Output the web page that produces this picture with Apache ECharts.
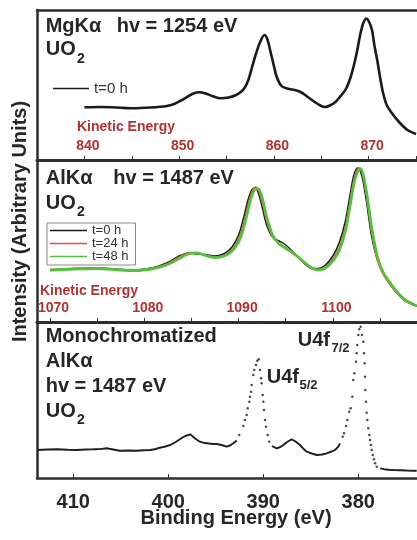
<!DOCTYPE html>
<html><head><meta charset="utf-8">
<script src="https://cdn.jsdelivr.net/npm/echarts@6/dist/echarts.min.js"></script>
<style>html,body{margin:0;padding:0;background:#fff}#c{width:417px;height:540px}</style>
</head><body><div id="c"></div>
<script>
// ---- Panel 1: MgKa, kinetic energy (eV) vs intensity (arb.)
const mgKE = [840.0,841.7,843.5,845.1,847.0,848.7,849.4,850.2,850.9,851.5,852.1,852.8,853.5,854.4,855.2,855.9,856.5,856.9,857.3,857.7,858.1,858.55,859.0,859.3,859.6,859.95,860.3,860.8,861.4,862.4,863.0,863.5,864.3,865.0,865.4,865.9,866.5,867.0,867.6,868.1,868.5,868.8,869.1,869.4,869.75,870.05,870.35,870.6,870.9,871.2,871.5,871.9,872.6,873.3,874.1,875.0];
const mgI  = [52.7,53,52.5,51.7,52.5,54,55.7,59.5,63.3,66.5,67.7,66.5,64,61.7,62.5,64.5,68,72,80,93,106,118,125,121,110,96,83,74,71.5,69.5,67,63.5,58,54,53,54.5,58,63.5,71,83,97,110,125,136,141.5,138,130,115,100,83,68,55,45,37,30,26];

// ---- Panel 2: AlKa, kinetic energy (eV), three times
const alKE = [1070,1072.5,1075,1077.5,1079,1081,1082.5,1083.7,1084.8,1085.6,1086.5,1087.5,1088.5,1089.3,1090,1090.5,1091,1091.4,1091.8,1092.1,1092.5,1093,1093.6,1094.3,1095,1095.8,1096.7,1097.6,1098.4,1099.2,1100,1100.7,1101.3,1101.8,1102.2,1102.6,1102.9,1103.2,1103.6,1104.1,1104.7,1105.3,1106,1106.8,1107.7,1108.9];
const al0h  = [52,53.5,54,52.5,52,54.5,59.5,66,69,68,67.5,66,68.5,75,87,103,122,132,134,129,115,96,85,81,77,70,61,54,53.5,57,66,80,100,126,146,154,151,141,118,86,63,51,39,29,21,16];
const al24h = [52.5,53,54,52,51.5,54,58.5,65,69.5,69,66.5,65,67,72.5,83,97,117,130,135,132,120,100,85,78,73,68,61,54,52.5,55,63,75,94,120,141,153,154,146,124,90,62,48,38,29,21,16];
const al48h = [52,53,53.5,52,51.5,53.5,57.5,63.5,68.5,69,66.5,64.5,66,71,80,93,112,126,133,133,124,104,87,78,74,69,62,55,52,54,61,72,90,115,137,150,153,148,128,95,66,50,40,30,22,16];

// ---- Panel 3: monochromatized AlKa, binding energy (eV)
const monoBE = [413.8,412.7,411.7,410.6,409.6,408.7,407.9,407.2,406.5,405.8,405.1,404.2,403.3,402.6,401.9,401.3,400.9,400.3,399.8,399.3,398.9,398.5,398.2,397.7,397.2,396.7,396.3,395.7,395.3,394.9,394.4,393.85,393.5,393.16,392.8,
  392.53,392.1,391.93,391.75,391.64,391.47,391.4,391.29,391.22,391.05,390.95,390.77,390.63,390.48,390.35,390.24,390.17,390.06,390.0,389.93,389.82,389.72,389.54,389.37,
  389.1,388.59,388.2,387.89,387.5,387.01,386.6,386.14,385.8,385.43,384.9,384.38,383.8,383.33,382.8,382.45,382.1,381.93,
  381.64,381.5,381.29,381.16,380.95,380.8,380.63,380.53,380.42,380.24,380.17,380.11,380.0,379.89,379.75,379.61,379.47,379.4,379.33,379.3,379.26,379.19,379.12,379.05,378.95,378.84,378.77,378.66,378.59,378.48,378.35,378.24,378.06,
  377.7,377.3,376.8,376.3,375.6,374.9,374.2,373.85];
const monoI = [28,28.5,28.7,28.2,28,28.5,28.7,28.9,29.7,28.5,27.3,27.5,27.3,27.8,28,29,30.3,31.5,33,35.5,38,40.5,42,43.7,39.7,36.3,35.3,34.5,34,34,33,31.3,32.5,34.7,37.5,
  43,52,58,63,69.7,76.3,81.3,86.3,93,103,108,113,117.3,118.7,108,99.7,94.7,83,76.3,68,58,51.3,43,36.3,
  32,29.7,31,33,36,38.7,36.5,33,29.5,26.3,24.5,23,23.5,24.7,26.5,28,31.3,34.7,
  41.3,44.7,52,58,66.3,69.7,81.3,98,104.7,116.3,124.7,133,143,148.7,151.3,143,136.3,124.7,114.7,101.3,88,76.3,65.3,58,49.7,43,38,33,28,23,18.7,14.7,11.3,
  9.7,8.8,8.3,8,7.8,7.5,7.3,7.2];
const monoDotWindows = [[389.3, 392.6], [378.0, 381.7]];

// ---- Tick values
const mgTicks = [840,845,850,855,860,865,870,875];
const mgLabels = [840,850,860,870];
const alTicks = [1070,1075,1080,1085,1090,1095,1100,1105];
const alLabels = [1070,1080,1090,1100];
const beTicks = [380,390,400,410];
const beLabels = [380,390,400,410];

const FONT = '"Liberation Sans", Arial, sans-serif';
const TXT = '#262626';
const RED = '#b23232';
const AX = '#2e2e2e';

const zip = (a, b) => a.map((v, i) => [v, b[i]]);
const inWin = e => monoDotWindows.some(w => e >= w[0] && e <= w[1]);
const monoLine = monoBE.map((e, i) => inWin(e) ? [e, null] : [e, monoI[i]]);
const monoDots = monoBE.map((e, i) => [e, monoI[i]]).filter(p => inWin(p[0]));

function kinAxis(grid, min, max, ticks, labels) {
  return {
    type: 'value', gridIndex: grid, position: 'bottom', min: min, max: max,
    axisLine: { show: true, onZero: false, lineStyle: { color: AX, width: 3 } },
    axisTick: { show: true, inside: true, length: 4, customValues: ticks, lineStyle: { color: AX, width: 1 } },
    axisLabel: { show: true, inside: true, margin: 7, customValues: labels, color: RED, fontWeight: 'bold',
      fontSize: 14, fontFamily: FONT, padding: [0, 0, 0, 7], formatter: v => String(v) },
    splitLine: { show: false }
  };
}
function yAx(grid, max) {
  return {
    type: 'value', gridIndex: grid, min: 0, max: max,
    axisLine: { show: true, lineStyle: { color: AX, width: 2.5 } },
    axisTick: { show: false }, axisLabel: { show: false }, splitLine: { show: false }
  };
}
function txt(text, x, y, size, opts) {
  opts = opts || {};
  return {
    type: 'text', z: 100, rotation: opts.rotation || 0, x: x, y: y,
    style: {
      text: text, x: 0, y: 0, fill: opts.color || TXT,
      font: (opts.weight || 'bold') + ' ' + size + 'px ' + FONT,
      textAlign: opts.align || 'left', textVerticalAlign: 'middle',
      align: opts.align || 'left', verticalAlign: 'middle'
    }
  };
}

const chart = echarts.init(document.getElementById('c'), null, { renderer: 'canvas' });
chart.setOption({
  animation: false,
  backgroundColor: '#fff',
  grid: [
    { left: 37, top: 10, width: 380, height: 150 },
    { left: 37, top: 160, width: 380, height: 162 },
    { left: 37, top: 322, width: 380, height: 156 }
  ],
  xAxis: [
    kinAxis(0, 835, 875.1, mgTicks, mgLabels),
    { type: 'value', gridIndex: 0, position: 'top', min: 835, max: 875.1,
      axisLine: { show: true, onZero: false, lineStyle: { color: AX, width: 2.5 } },
      axisTick: { show: false }, axisLabel: { show: false }, splitLine: { show: false } },
    kinAxis(1, 1068.62, 1108.92, alTicks, alLabels),
    { type: 'value', gridIndex: 2, position: 'bottom', min: 373.82, max: 413.82, inverse: true,
      axisLine: { show: true, onZero: false, lineStyle: { color: AX, width: 2.5 } },
      axisTick: { show: true, inside: true, length: 4, customValues: beTicks, lineStyle: { color: AX, width: 1 } },
      axisLabel: { show: true, margin: 14, customValues: beLabels, color: TXT, fontWeight: 'bold', fontSize: 20, fontFamily: FONT,
        formatter: v => String(v) },
      splitLine: { show: false } }
  ],
  yAxis: [yAx(0, 150), yAx(1, 162), yAx(2, 156)],
  legend: [
    { data: ['t=0 h'], left: 53, top: 81, padding: 0, itemWidth: 36, itemHeight: 1.3, icon: 'rect',
      textStyle: { fontSize: 15, lineHeight: 14, color: '#333', fontFamily: FONT }, selectedMode: false },
    { data: ['t=0 h', 't=24 h', 't=48 h'], orient: 'vertical', left: 47, top: 223, icon: 'rect',
      padding: [1, 7, 2, 3], itemGap: 0, itemWidth: 37, itemHeight: 1.6,
      borderColor: '#8a8a8a', borderWidth: 1,
      textStyle: { fontSize: 13, lineHeight: 12.5, color: '#333', fontFamily: FONT }, selectedMode: false }
  ],
  series: [
    { name: 't=0 h', type: 'line', xAxisIndex: 0, yAxisIndex: 0, data: zip(mgKE, mgI), smooth: 0.3,
      symbol: 'none', lineStyle: { color: '#1a1a1a', width: 2.6 }, itemStyle: { color: '#1a1a1a' } },
    { name: 't=0 h', type: 'line', xAxisIndex: 2, yAxisIndex: 1, data: zip(alKE, al0h), smooth: 0.3,
      symbol: 'none', lineStyle: { color: '#1a1a1a', width: 1.5 }, itemStyle: { color: '#1a1a1a' }, z: 2 },
    { name: 't=24 h', type: 'line', xAxisIndex: 2, yAxisIndex: 1, data: zip(alKE, al24h), smooth: 0.3,
      symbol: 'none', lineStyle: { color: '#ec4a35', width: 1.5 }, itemStyle: { color: '#ec4a35' }, z: 3 },
    { name: 't=48 h', type: 'line', xAxisIndex: 2, yAxisIndex: 1, data: zip(alKE, al48h), smooth: 0.3,
      symbol: 'none', lineStyle: { color: '#55bf3f', width: 2.8 }, itemStyle: { color: '#55bf3f' }, z: 4 },
    { name: 'mono', type: 'line', xAxisIndex: 3, yAxisIndex: 2, data: monoLine, connectNulls: false,
      symbol: 'none', lineStyle: { color: '#1e1e1e', width: 1.9 } },
    { name: 'monoDots', type: 'scatter', xAxisIndex: 3, yAxisIndex: 2, data: monoDots,
      symbol: 'circle', symbolSize: 2.5, itemStyle: { color: '#1e1e1e' } }
  ],
  graphic: [
    txt('Intensity (Arbitrary Units)', 20, 221.5, 20, { align: 'center', rotation: Math.PI / 2 }),
    txt('MgK\u03b1', 45.7, 26.5, 20),
    txt('hv = 1254 eV', 116.7, 26.5, 20),
    txt('UO', 45.7, 49.3, 20),
    txt('2', 77, 59, 14),
    txt('Kinetic Energy', 77, 127.3, 14, { color: RED }),
    txt('AlK\u03b1', 45.7, 178.3, 20),
    txt('hv = 1487 eV', 113.3, 178.3, 20),
    txt('UO', 45.7, 203.3, 20),
    txt('2', 77, 212.5, 14),
    txt('Kinetic Energy', 40, 291, 14, { color: RED }),
    txt('Monochromatized', 45.7, 336.7, 20),
    txt('AlK\u03b1', 45.7, 361, 20),
    txt('hv = 1487 eV', 45.7, 386, 20),
    txt('UO', 45.7, 411.3, 20),
    txt('2', 77, 420.5, 14),
    txt('U4f', 297.7, 340, 20),
    txt('7/2', 331.5, 348, 13),
    txt('U4f', 266.7, 377.3, 20),
    txt('5/2', 299.5, 385.7, 13),
    txt('Binding Energy (eV)', 236, 518.3, 20, { align: 'center' })
  ]
});
</script></body></html>
